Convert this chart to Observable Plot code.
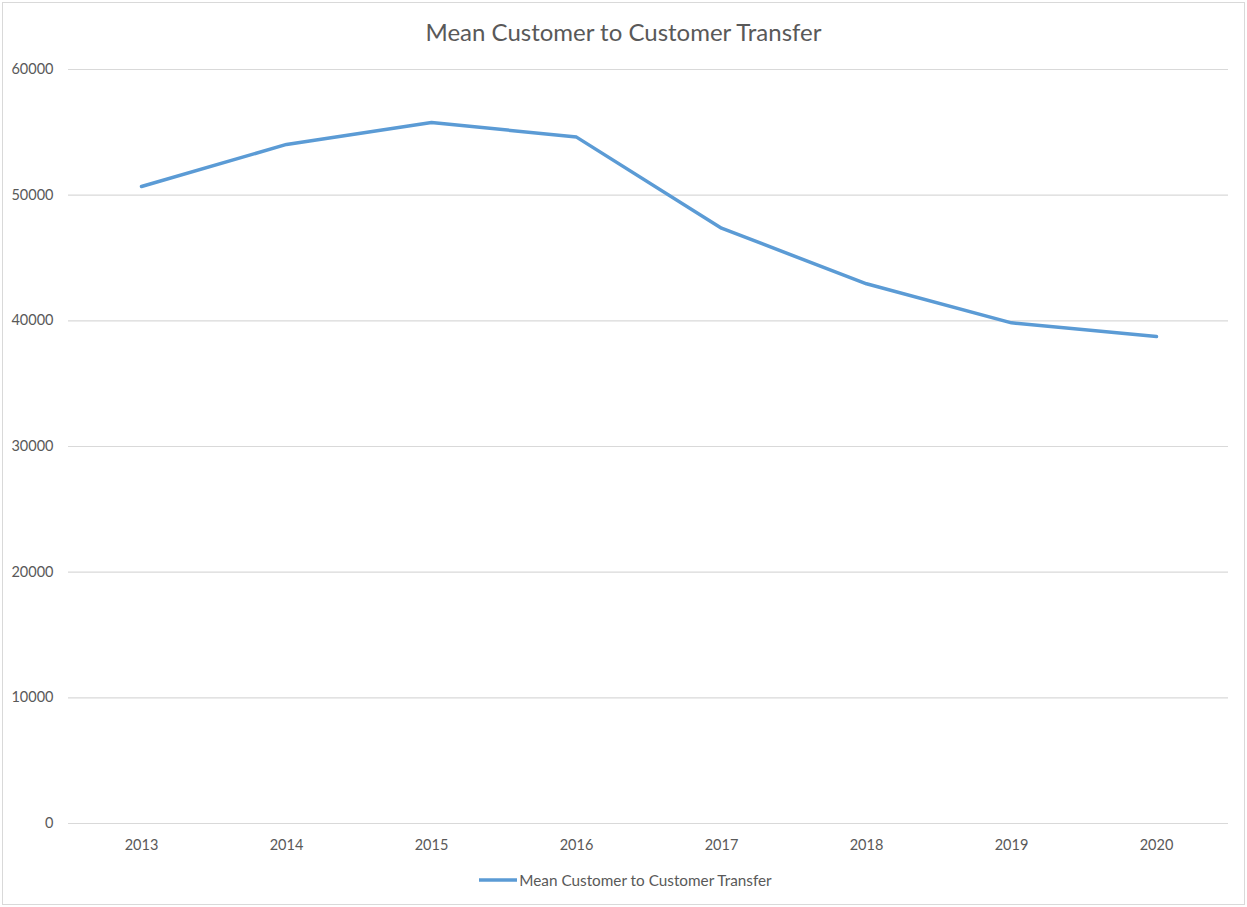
<!DOCTYPE html>
<html>
<head>
<meta charset="utf-8">
<script src="https://cdn.jsdelivr.net/npm/d3@7"></script>
<script src="https://cdn.jsdelivr.net/npm/@observablehq/plot@0.6"></script>
<style>
  html, body { margin: 0; padding: 0; background: #ffffff; }
  #frame {
    position: relative;
    width: 1247px;
    height: 907px;
    font-family: Lato, "Open Sans", sans-serif;
    color: #595959;
    overflow: hidden;
  }
  #border {
    position: absolute;
    left: 2px; top: 2px; width: 1243px; height: 903px;
    border: 1px solid #d9d9d9;
    box-sizing: border-box;
    pointer-events: none;
  }
  #title {
    height: 50px;
    box-sizing: border-box;
    padding-top: 14px;
    line-height: 36px;
    font-size: 24px;
    text-align: center;
  }
  #chart svg { display: block; }
  #legend {
    height: 20px;
    display: flex;
    align-items: center;
    justify-content: center;
    font-size: 15.3px;
    padding-left: 3px;
  }
  #legend svg { margin-right: 1px; }
</style>
</head>
<body>
<div id="frame">
  <div id="title">Mean Customer to Customer Transfer</div>
  <div id="chart"></div>
  <div id="legend"></div>
  <div id="border"></div>
</div>
<script>
// Yearly mean customer-to-customer transfer
const years = ["2013", "2014", "2015", "2016", "2017", "2018", "2019", "2020"];
const meanTransfer = [50690, 54040, 55790, 54620, 47370, 42950, 39840, 38750];
const yTicks = [0, 10000, 20000, 30000, 40000, 50000, 60000];
const seriesName = "Mean Customer to Customer Transfer";
const lineColor = "#5b9bd5";

const rows = years.map((year, i) => ({year, value: meanTransfer[i]}));

const chart = Plot.plot({
  width: 1247,
  height: 820,
  marginLeft: 68,
  marginRight: 19,
  marginTop: 19,
  marginBottom: 47,
  style: {fontFamily: "Lato, 'Open Sans', sans-serif", fontSize: "14.5px", color: "#595959", background: "transparent"},
  x: {type: "point", domain: years, padding: 0.5, label: null},
  y: {domain: [0, 60000], label: null},
  marks: [
    Plot.gridY(yTicks, {stroke: "#d9d9d9", strokeOpacity: 1, strokeWidth: 1.2}),
    Plot.axisY(yTicks, {tickSize: 0, tickPadding: 15, tickFormat: d3.format("d"), label: null}),
    Plot.axisX(years, {tickSize: 0, tickPadding: 16, label: null}),
    Plot.line(rows, {x: "year", y: "value", stroke: lineColor, strokeWidth: 3.5, strokeLinejoin: "round", strokeLinecap: "round"})
  ]
});
document.getElementById("chart").appendChild(chart);

// Legend: swatch line followed by the series name
const legend = d3.select("#legend");
const sw = legend.append("svg").attr("width", 40).attr("height", 8);
sw.append("line").attr("x1", 1).attr("x2", 39).attr("y1", 4).attr("y2", 4)
  .attr("stroke", lineColor).attr("stroke-width", 3.5);
legend.append("span").text(seriesName);
</script>
</body>
</html>
